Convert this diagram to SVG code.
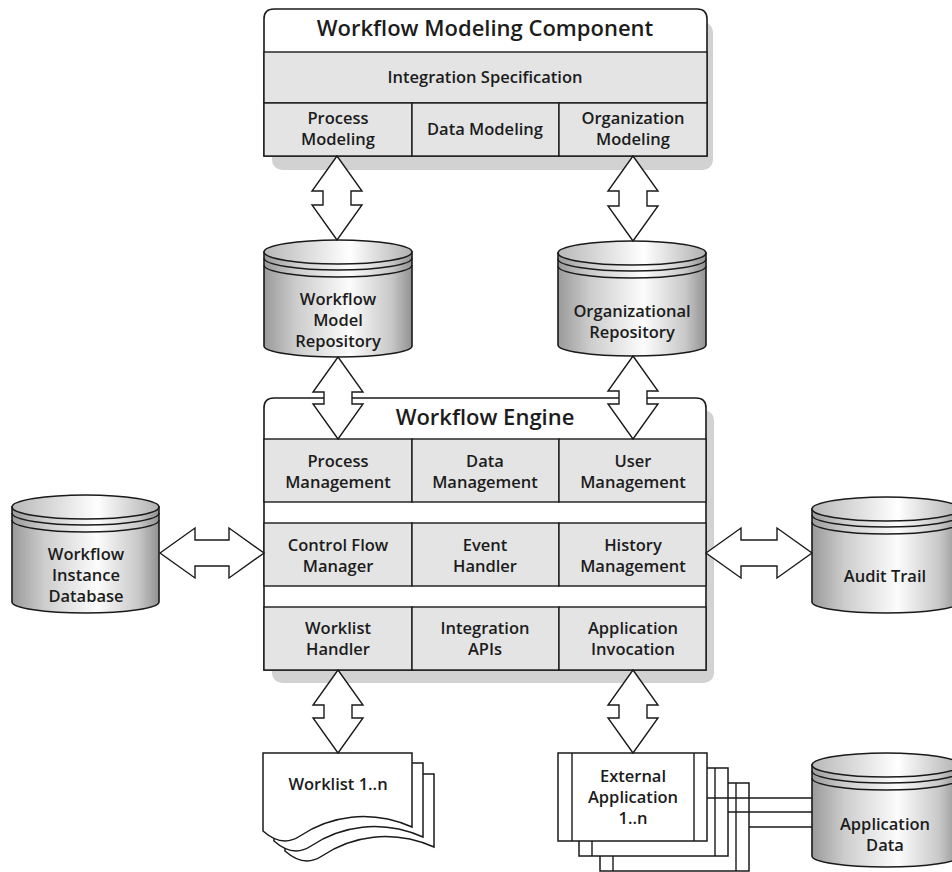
<svg xmlns="http://www.w3.org/2000/svg" width="952" height="872" viewBox="0 0 952 872">
  <defs>
    <linearGradient id="drum" x1="0" y1="0" x2="1" y2="0">
      <stop offset="0" stop-color="#9a9a9a"/>
      <stop offset="0.22" stop-color="#cdcdcd"/>
      <stop offset="0.58" stop-color="#fcfcfc"/>
      <stop offset="0.86" stop-color="#c8c8c8"/>
      <stop offset="1" stop-color="#929292"/>
    </linearGradient>
    <linearGradient id="lid" x1="0" y1="0" x2="1" y2="0">
      <stop offset="0" stop-color="#b8b8b8"/>
      <stop offset="0.58" stop-color="#ffffff"/>
      <stop offset="1" stop-color="#b0b0b0"/>
    </linearGradient>
  </defs>
  <style>
    text { font-family: "Open Sans", "Noto Sans", "Liberation Sans", sans-serif; font-weight: 600; fill: #1c1c1c; text-anchor: middle; }
    .title { font-size: 22px; }
    .lbl { font-size: 16.5px; }
    .frame { fill: #ffffff; stroke: #1a1a1a; stroke-width: 1.6; }
    .cell { fill: #e4e4e4; stroke: #1a1a1a; stroke-width: 1.4; }
    .shadow { fill: #d2d2d2; }
    .line { fill: none; stroke: #1a1a1a; stroke-width: 1.4; }
    .drum { fill: url(#drum); stroke: #1a1a1a; stroke-width: 1.6; }
    .lid { fill: url(#lid); stroke: #1a1a1a; stroke-width: 1.6; }
    .rim { fill: none; stroke: #1a1a1a; stroke-width: 1.4; }
    .arrow { fill: #ffffff; stroke: #1a1a1a; stroke-width: 1.4; stroke-linejoin: miter; }
    .page { fill: #ffffff; stroke: #1a1a1a; stroke-width: 1.5; }
  </style>

  <rect width="952" height="872" fill="#ffffff"/>

  <!-- Modeling component -->
  <g id="modeling-component">
    <rect class="shadow" x="272" y="22" width="441" height="148" rx="10"/>
    <path class="frame" d="M264,156 V19 Q264,9 274,9 H697 Q707,9 707,19 V156 Z"/>
    <rect class="cell" x="264" y="52" width="443" height="51"/>
    <rect class="cell" x="264" y="103" width="148" height="53"/>
    <rect class="cell" x="412" y="103" width="147" height="53"/>
    <rect class="cell" x="559" y="103" width="148" height="53"/>
    <text class="title" x="485" y="36">Workflow Modeling Component</text>
    <text class="lbl" x="485" y="83">Integration Specification</text>
    <text class="lbl" x="338" y="124">Process</text>
    <text class="lbl" x="338" y="145">Modeling</text>
    <text class="lbl" x="485" y="135">Data Modeling</text>
    <text class="lbl" x="633" y="124">Organization</text>
    <text class="lbl" x="633" y="145">Modeling</text>
  </g>

  <!-- Workflow engine -->
  <g id="workflow-engine">
    <rect class="shadow" x="272" y="410" width="442" height="273" rx="10"/>
    <path class="frame" d="M264,670 V408 Q264,398 274,398 H696 Q706,398 706,408 V670 Z"/>
    <rect class="cell" x="264" y="439" width="148" height="63"/>
    <rect class="cell" x="412" y="439" width="147" height="63"/>
    <rect class="cell" x="559" y="439" width="147" height="63"/>
    <rect class="cell" x="264" y="523" width="148" height="63"/>
    <rect class="cell" x="412" y="523" width="147" height="63"/>
    <rect class="cell" x="559" y="523" width="147" height="63"/>
    <rect class="cell" x="264" y="607" width="148" height="63"/>
    <rect class="cell" x="412" y="607" width="147" height="63"/>
    <rect class="cell" x="559" y="607" width="147" height="63"/>
    <text class="title" x="485" y="425">Workflow Engine</text>
    <text class="lbl" x="338" y="467">Process</text>
    <text class="lbl" x="338" y="488">Management</text>
    <text class="lbl" x="485" y="467">Data</text>
    <text class="lbl" x="485" y="488">Management</text>
    <text class="lbl" x="633" y="467">User</text>
    <text class="lbl" x="633" y="488">Management</text>
    <text class="lbl" x="338" y="551">Control Flow</text>
    <text class="lbl" x="338" y="572">Manager</text>
    <text class="lbl" x="485" y="551">Event</text>
    <text class="lbl" x="485" y="572">Handler</text>
    <text class="lbl" x="633" y="551">History</text>
    <text class="lbl" x="633" y="572">Management</text>
    <text class="lbl" x="338" y="634">Worklist</text>
    <text class="lbl" x="338" y="655">Handler</text>
    <text class="lbl" x="485" y="634">Integration</text>
    <text class="lbl" x="485" y="655">APIs</text>
    <text class="lbl" x="633" y="634">Application</text>
    <text class="lbl" x="633" y="655">Invocation</text>
  </g>

  <!-- Repositories -->
  <g id="workflow-model-repository">
    <path class="drum" d="M264,252 V346 A74,11 0 0 0 412,346 V252 Z"/>
    <ellipse class="lid" cx="338" cy="252" rx="74" ry="12"/>
    <path class="rim" d="M264,258 A74,12 0 0 0 412,258 M264,265 A74,12 0 0 0 412,265"/>
    <text class="lbl" x="338" y="305">Workflow</text>
    <text class="lbl" x="338" y="326">Model</text>
    <text class="lbl" x="338" y="347">Repository</text>
  </g>

  <g id="organizational-repository">
    <path class="drum" d="M558,253 V345 A74,11 0 0 0 706,345 V253 Z"/>
    <ellipse class="lid" cx="632" cy="253" rx="74" ry="12"/>
    <path class="rim" d="M558,259 A74,12 0 0 0 706,259 M558,266 A74,12 0 0 0 706,266"/>
    <text class="lbl" x="632" y="317">Organizational</text>
    <text class="lbl" x="632" y="338">Repository</text>
  </g>

  <g id="workflow-instance-database">
    <path class="drum" d="M12,507 V602 A73.5,11 0 0 0 159,602 V507 Z"/>
    <ellipse class="lid" cx="85.5" cy="507" rx="73.5" ry="12"/>
    <path class="rim" d="M12,513 A73.5,12 0 0 0 159,513 M12,520 A73.5,12 0 0 0 159,520"/>
    <text class="lbl" x="86" y="560">Workflow</text>
    <text class="lbl" x="86" y="581">Instance</text>
    <text class="lbl" x="86" y="602">Database</text>
  </g>

  <g id="audit-trail">
    <path class="drum" d="M812,509 V602 A74,11 0 0 0 960,602 V509 Z"/>
    <ellipse class="lid" cx="886" cy="509" rx="74" ry="12"/>
    <path class="rim" d="M812,515 A74,12 0 0 0 960,515 M812,522 A74,12 0 0 0 960,522"/>
    <text class="lbl" x="885" y="582">Audit Trail</text>
  </g>

  <!-- Worklists -->
  <g id="worklist">
    <path class="page" d="M285,774 H434 V847 C392,829 352,836 322,856 C307,866 294,859 285,851 Z"/>
    <path class="page" d="M274,763 H423 V837 C381,819 341,826 311,846 C296,856 283,849 274,841 Z"/>
    <path class="page" d="M263,753 H412 V827 C370,809 330,816 300,836 C285,846 272,839 263,831 Z"/>
    <text class="lbl" x="338" y="790">Worklist 1..n</text>
  </g>

  <!-- External applications -->
  <g id="external-application">
    <rect class="page" x="600" y="783" width="149" height="88"/>
    <path class="line" d="M613,783 V871 M736,783 V871"/>
    <rect class="page" x="579" y="768" width="149" height="88"/>
    <path class="line" d="M592,768 V856 M715,768 V856"/>
    <rect class="page" x="558" y="753" width="149" height="88"/>
    <path class="line" d="M572,753 V841 M694,753 V841"/>
    <text class="lbl" x="633" y="782">External</text>
    <text class="lbl" x="633" y="803">Application</text>
    <text class="lbl" x="633" y="824">1..n</text>
  </g>

  <g id="application-data">
    <path class="drum" d="M812,765 V856 A74,11 0 0 0 960,856 V765 Z"/>
    <ellipse class="lid" cx="886" cy="765" rx="74" ry="12"/>
    <path class="rim" d="M812,771 A74,12 0 0 0 960,771 M812,778 A74,12 0 0 0 960,778"/>
    <text class="lbl" x="885" y="830">Application</text>
    <text class="lbl" x="885" y="851">Data</text>
  </g>

  <!-- Connectors -->
  <g id="connectors">
    <polygon class="arrow" points="337,156 362,191 351,191 351,205 362,205 337,240 312,205 323,205 323,191 312,191"/>
    <polygon class="arrow" points="633,156 658,191 647,191 647,206 658,206 633,241 608,206 619,206 619,191 608,191"/>
    <polygon class="arrow" points="338,357 363,392 352,392 352,404 363,404 338,439 313,404 324,404 324,392 313,392"/>
    <polygon class="arrow" points="633,356 658,391 647,391 647,404 658,404 633,439 608,404 619,404 619,391 608,391"/>
    <polygon class="arrow" points="160,553 195,528 195,540 229,540 229,528 264,553 229,578 229,566 195,566 195,578"/>
    <polygon class="arrow" points="706,553 741,528 741,540 777,540 777,528 812,553 777,578 777,566 741,566 741,578"/>
    <polygon class="arrow" points="338,670 363,705 352,705 352,718 363,718 338,753 313,718 324,718 324,705 313,705"/>
    <polygon class="arrow" points="633,670 658,705 647,705 647,718 658,718 633,753 608,718 619,718 619,705 608,705"/>
    <path class="line" d="M707,798 H812 M728,812 H812 M749,827 H812"/>
  </g>
</svg>
